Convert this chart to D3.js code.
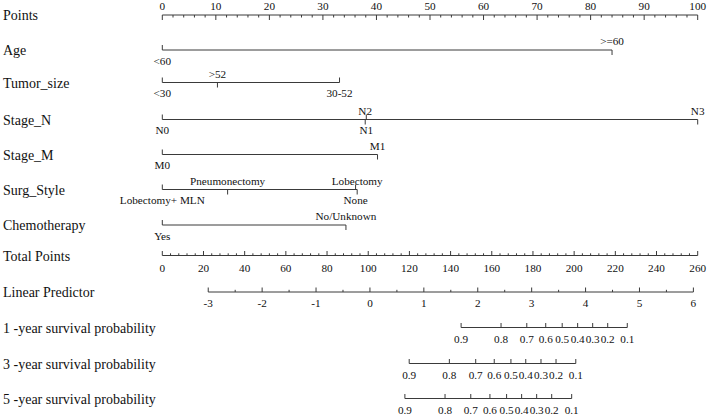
<!DOCTYPE html>
<html>
<head>
<meta charset="utf-8">
<script src="https://cdn.jsdelivr.net/npm/d3@7"></script>
<style>
  body { margin: 0; background: #fff; }
</style>
</head>
<body>
<div id="chart"></div>
<script>
// points axis
let pointsTicks = [0, 10, 20, 30, 40, 50, 60, 70, 80, 90, 100];

// predictors: level labels and their points
let varNames = ["Age", "Tumor_size", "Stage_N", "Stage_M", "Surg_Style", "Chemotherapy"];
let ageLevels = ["<60", ">=60"];
let agePoints = [0, 84];
let tumorLevels = ["<30", ">52", "30-52"];
let tumorPoints = [0, 10.3, 33.1];
let stageNLevels = ["N0", "N2", "N1", "N3"];
let stageNPoints = [0, 37.9, 38.1, 100];
let stageMLevels = ["M0", "M1"];
let stageMPoints = [0, 40.2];
let surgLevels = ["Lobectomy+ MLN", "Pneumonectomy", "None", "Lobectomy"];
let surgPoints = [0, 12.2, 36.1, 36.4];
let chemoLevels = ["Yes", "No/Unknown"];
let chemoPoints = [0, 34.3];

// total points and linear predictor
let totalTicks = [0, 20, 40, 60, 80, 100, 120, 140, 160, 180, 200, 220, 240, 260];
let lpTicks = [-3, -2, -1, 0, 1, 2, 3, 4, 5, 6];
let lpEnds = [-3, 6];
let lpEndsTotal = [22.3, 257.9];   // total points where LP = -3 and LP = 6

// survival probabilities (position on total points)
let survNames = ["1 -year survival probability", "3 -year survival probability", "5 -year survival probability"];
let survTicks = [0.9, 0.8, 0.7, 0.6, 0.5, 0.4, 0.3, 0.2, 0.1];
let surv1Total = [145.1, 164.5, 177.0, 186.2, 194.2, 201.7, 209.0, 216.3, 225.8];
let surv3Total = [119.9, 139.4, 152.2, 161.2, 169.3, 176.5, 183.9, 191.2, 200.8];
let surv5Total = [117.8, 137.3, 149.8, 159.1, 167.2, 174.5, 181.8, 189.1, 198.8];

let width = 709, height = 416;
let x0 = 162.3, x1 = 697.7;
let lineColor = "#3a3a3a";
let rowY = [15, 50, 82.5, 119.5, 154.5, 189.5, 225, 255.5, 292, 327.5, 363.5, 398.5];

let svg = d3.select("#chart").append("svg")
    .attr("width", width)
    .attr("height", height)
    .attr("font-family", "'Liberation Serif', 'DejaVu Serif', serif")
    .style("font-family", "'Liberation Serif', 'DejaVu Serif', serif");

let xPoints = d3.scaleLinear().domain([0, 100]).range([x0, x1]);
let xTotal = d3.scaleLinear().domain([0, 260]).range([x0, x1]);
let lpToTotal = d3.scaleLinear().domain(lpEnds).range(lpEndsTotal);

function rowLabel(y, txt) {
    svg.append("text")
        .attr("x", 3)
        .attr("y", y + 5)
        .attr("fill", "#111")
        .style("font-size", "14px")
        .text(txt);
}

function hline(y, xa, xb) {
    svg.append("line")
        .attr("x1", xa).attr("x2", xb)
        .attr("y1", y).attr("y2", y)
        .attr("stroke", lineColor)
        .attr("stroke-width", 1);
}

function tick(x, y, len) {
    svg.append("line")
        .attr("x1", x).attr("x2", x)
        .attr("y1", y).attr("y2", y + len)
        .attr("stroke", lineColor)
        .attr("stroke-width", 1);
}

function tickText(x, y, txt) {
    svg.append("text")
        .attr("x", x)
        .attr("y", y)
        .attr("text-anchor", "middle")
        .attr("fill", "#111")
        .style("font-size", "11.2px")
        .text(txt);
}

// Points
rowLabel(rowY[0], "Points");
hline(rowY[0], x0, x1);
d3.range(0, 101, 2).forEach((p) => tick(xPoints(p), rowY[0], p % 10 === 0 ? 5 : 2.5));
pointsTicks.forEach((p) => tickText(xPoints(p), rowY[0] - 5, p));

// predictors
let varLevels = [ageLevels, tumorLevels, stageNLevels, stageMLevels, surgLevels, chemoLevels];
let varPoints = [agePoints, tumorPoints, stageNPoints, stageMPoints, surgPoints, chemoPoints];

varNames.forEach((name, i) => {
    let y = rowY[i + 1];
    rowLabel(y, name);
    let lv = varLevels[i].map((l, j) => ({label: l, pts: varPoints[i][j]}))
        .sort((a, b) => a.pts - b.pts);
    hline(y, xPoints(d3.min(lv, (d) => d.pts)), xPoints(d3.max(lv, (d) => d.pts)));
    lv.forEach((d, j) => {
        let below = j % 2 === 0;
        tick(xPoints(d.pts), y, below ? -5 : 5);
        tickText(xPoints(d.pts), below ? y + 14.5 : y - 5, d.label);
    });
});

// Total Points
let yT = rowY[7];
rowLabel(yT, "Total Points");
hline(yT, xTotal(0), xTotal(260));
d3.range(0, 261, 4).forEach((p) => tick(xTotal(p), yT, p % 20 === 0 ? -4.5 : -2.2));
totalTicks.forEach((p) => tickText(xTotal(p), yT + 16, p));

// Linear Predictor
let yL = rowY[8];
rowLabel(yL, "Linear Predictor");
hline(yL, xTotal(lpToTotal(-3)), xTotal(lpToTotal(6)));
d3.range(-3, 6.01, 0.5).forEach((v) => tick(xTotal(lpToTotal(v)), yL, Number.isInteger(v) ? -4.5 : -2.2));
lpTicks.forEach((v) => tickText(xTotal(lpToTotal(v)), yL + 15, v));

// survival scales
let survTotals = [surv1Total, surv3Total, surv5Total];
survNames.forEach((name, i) => {
    let y = rowY[9 + i];
    rowLabel(y, name);
    let tot = survTotals[i];
    hline(y, xTotal(d3.min(tot)), xTotal(d3.max(tot)));
    tot.forEach((t, j) => {
        tick(xTotal(t), y, -4.5);
        tickText(xTotal(t), y + 15, survTicks[j]);
    });
});
</script>
</body>
</html>
